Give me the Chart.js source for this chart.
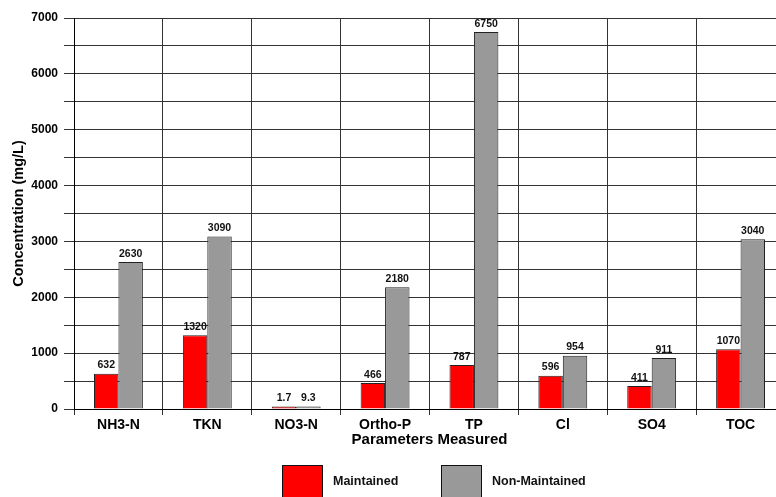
<!DOCTYPE html>
<html>
<head>
<meta charset="utf-8">
<script src="https://cdn.jsdelivr.net/npm/chart.js@4/dist/chart.umd.min.js"></script>
<style>
  html, body { margin: 0; padding: 0; background: #fff; overflow: hidden; }
  canvas { display: block; }
</style>
</head>
<body>
<canvas id="c" width="790" height="497"></canvas>
<script>
// Data
var categories     = ['NH3-N', 'TKN', 'NO3-N', 'Ortho-P', 'TP', 'Cl', 'SO4', 'TOC'];
var maintained     = [632, 1320, 1.7, 466, 787, 596, 411, 1070];
var nonMaintained  = [2630, 3090, 9.3, 2180, 6750, 954, 911, 3040];
var seriesNames    = ['Maintained', 'Non-Maintained'];
var seriesColors   = ['#ff0000', '#999999'];
var yTicksLabelled = [0, 1000, 2000, 3000, 4000, 5000, 6000, 7000];

var FONT = "Arial, 'Liberation Sans', sans-serif";

// Value labels above each bar
var valueLabels = {
  id: 'valueLabels',
  afterDatasetsDraw: function (chart) {
    var c = chart.ctx;
    c.save();
    c.font = 'bold 10.5px ' + FONT;
    c.fillStyle = '#111';
    c.textAlign = 'center';
    c.textBaseline = 'bottom';
    chart.data.datasets.forEach(function (ds, di) {
      var meta = chart.getDatasetMeta(di);
      meta.data.forEach(function (bar, i) {
        c.fillText(String(ds.data[i]), bar.x, bar.y - 3);
      });
    });
    c.restore();
  }
};

// Legend below the axis title: big square swatches
var boxLegend = {
  id: 'boxLegend',
  afterDraw: function (chart) {
    var c = chart.ctx;
    var items = [{ x: 282 }, { x: 441 }];
    c.save();
    c.font = 'bold 12.5px ' + FONT;
    c.textAlign = 'left';
    c.textBaseline = 'middle';
    items.forEach(function (it, i) {
      c.fillStyle = seriesColors[i];
      c.fillRect(it.x, 465, 41, 36);
      c.strokeStyle = '#111';
      c.lineWidth = 1;
      c.strokeRect(it.x + 0.5, 465.5, 40, 36);
      c.fillStyle = '#111';
      c.fillText(seriesNames[i], it.x + 51, 482);
    });
    c.restore();
  }
};

new Chart(document.getElementById('c').getContext('2d'), {
  type: 'bar',
  plugins: [valueLabels, boxLegend],
  data: {
    labels: categories,
    datasets: [
      {
        label: seriesNames[0],
        data: maintained,
        backgroundColor: seriesColors[0],
        borderColor: '#222',
        borderWidth: 1,
        minBarLength: 2.5,
        categoryPercentage: 0.55,
        barPercentage: 1.0
      },
      {
        label: seriesNames[1],
        data: nonMaintained,
        backgroundColor: seriesColors[1],
        borderColor: '#222',
        borderWidth: 1,
        minBarLength: 2.5,
        categoryPercentage: 0.55,
        barPercentage: 1.0
      }
    ]
  },
  options: {
    responsive: false,
    animation: false,
    layout: { padding: { top: 18, right: 5, left: 0, bottom: 0 } },
    plugins: {
      legend: { display: false },
      tooltip: { enabled: false }
    },
    scales: {
      x: {
        afterFit: function (s) { s.height = 88; },
        grid: { offset: true, color: '#333', tickLength: 6, lineWidth: 1 },
        border: { color: '#000', width: 1 },
        ticks: {
          color: '#000',
          padding: 2,
          font: { family: FONT, size: 14, weight: 'bold' }
        },
        title: {
          display: true,
          text: 'Parameters Measured',
          color: '#000',
          padding: { top: 0, bottom: 48 },
          font: { family: FONT, size: 15, weight: 'bold' }
        }
      },
      y: {
        min: 0,
        max: 7000,
        afterFit: function (s) { s.width = 74; },
        grid: { color: '#333', tickLength: 10, lineWidth: 1 },
        border: { color: '#000', width: 1 },
        ticks: {
          stepSize: 500,
          color: '#000',
          padding: 6,
          font: { family: FONT, size: 12, weight: 'bold' },
          callback: function (v) { return yTicksLabelled.indexOf(v) >= 0 ? v : ''; }
        },
        title: {
          display: true,
          text: 'Concentration (mg/L)',
          color: '#000',
          padding: { top: 10, bottom: 0 },
          font: { family: FONT, size: 14.5, weight: 'bold' }
        }
      }
    }
  }
});
</script>
</body>
</html>
